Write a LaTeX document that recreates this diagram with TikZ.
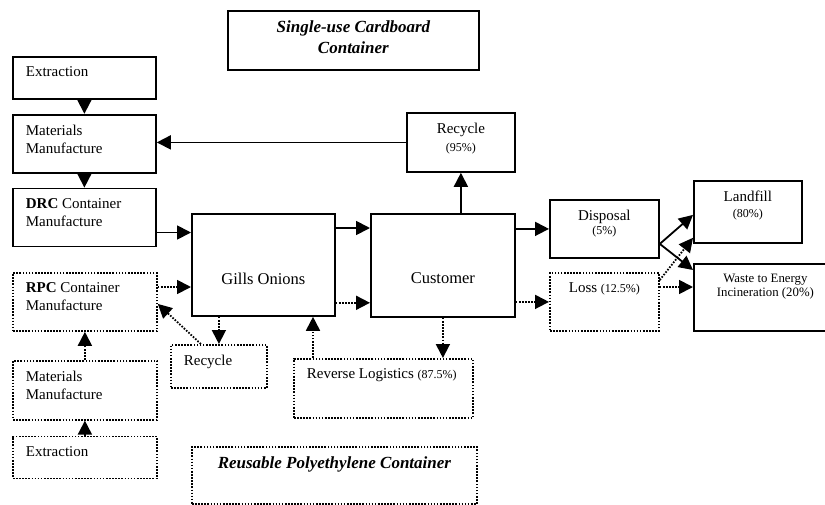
\documentclass[tikz,border=0pt]{standalone}
\usepackage{fontspec}
\setmainfont{Liberation Serif}
\usetikzlibrary{arrows.meta, positioning}

\newcommand{\pct}[1]{{\fontsize{12}{14}\selectfont(#1)}}

\begin{document}
\begin{tikzpicture}[
  x=1pt, y=-1pt,
  stagebox/.style n args={3}{draw, line width=1.8pt, anchor=north west, inner xsep=13pt, inner ysep=10pt,
    minimum width=#1pt, minimum height=#2pt, font=\fontsize{15}{18}\selectfont,
    execute at begin node={\begin{minipage}[t][\dimexpr#2pt-20pt\relax][t]{\dimexpr#1pt-26pt\relax}#3},
    execute at end node={\end{minipage}}},
  lbox/.style 2 args={stagebox={#1}{#2}{\raggedright}},
  cbox/.style 2 args={stagebox={#1}{#2}{\centering}},
  dotbox/.style={dash pattern=on 1.6pt off 1.5pt},
  judul/.style={font=\fontsize{17}{21}\selectfont\bfseries\itshape},
  panah/.style={-{Triangle[length=14pt,width=14pt]}, line width=1.8pt},
  panahdot/.style={panah, dash pattern=on 1.6pt off 1.5pt}
]
\clip (0,0) rectangle (825,504);

% Single-use cardboard
\node[cbox={251}{59}, judul] (titlecb) at (227,10) {Single-use Cardboard\\Container};
\node[lbox={143}{42}] (ext1) at (12,56) {Extraction};
\node[lbox={143}{58}, below=14pt of ext1] (mat1) {Materials\\Manufacture};
\node[lbox={143}{58}, below=14pt of mat1] (drc) {\textbf{DRC} Container\\Manufacture};
\node[cbox={143}{102}, font=\fontsize{16.5}{18}\selectfont] (gills) at (191,213) {\vspace*{49pt}Gills Onions};
\node[cbox={144}{103}, font=\fontsize{16.5}{18}\selectfont] (cust) at (370,213) {\vspace*{49pt}Customer};
\node[cbox={108}{59}] (rec1) at (406,112) {Recycle\\\pct{95\%}};
\node[cbox={109}{58}] (disp) at (549,199) {Disposal\\[-4pt]\pct{5\%}};
\node[cbox={108}{62}] (land) at (693,180) {Landfill\\[-2pt]\pct{80\%}};
\node[cbox={143}{67}, font=\fontsize{12.8}{14}\selectfont] (waste) at (693,263) {Waste to Energy\\Incineration (20\%)};

% Reusable polyethylene
\node[cbox={109}{58}, dotbox] (loss) at (549,272) {Loss \pct{12.5\%}};
\node[lbox={144}{58}, dotbox] (rpc) at (12,272) {\textbf{RPC} Container\\Manufacture};
\node[lbox={144}{59}, dotbox, below=28pt of rpc] (mat2) {Materials\\Manufacture};
\node[lbox={144}{42}, dotbox, below=15pt of mat2] (ext2) {Extraction};
\node[lbox={96}{43}, dotbox] (rec2) at (170,344) {Recycle};
\node[lbox={179}{59}, dotbox] (rev) at (293,358) {Reverse Logistics \pct{87.5\%}};
\node[cbox={285}{57}, dotbox, judul] (titlerpe) at (191,446) {Reusable Polyethylene Container};

% Alur karton
\draw[panah] (ext1) -- (mat1);
\draw[panah] (mat1) -- (drc);
\draw[panah] (rec1.west) -- (rec1.west -| mat1.east);
\draw[panah] (cust.north -| rec1.south) -- (rec1.south);
\draw[panah] ([yshift=-15pt]drc.east) -- ([yshift=-15pt]drc.east -| gills.west);
\draw[panah] ([yshift=-15pt]gills.north east) -- ([yshift=-15pt]gills.north east -| cust.west);
\draw[panah] (cust.east |- disp.west) -- (disp.west);
\draw[panah] ([yshift=-15pt]disp.east) -- ([yshift=-3pt]land.west);
\draw[panah] ([yshift=-15pt]disp.east) -- ([yshift=-7pt]waste.north west);

% Alur polietilen
\draw[panahdot] ([yshift=-15pt]rpc.north east) -- ([yshift=-15pt]rpc.north east -| gills.west);
\draw[panahdot] ([yshift=14pt]gills.south east) -- ([yshift=14pt]gills.south east -| cust.west);
\draw[panahdot] (cust.east |- loss.west) -- (loss.west);
\draw[panahdot] ([yshift=-8pt]loss.north east) -- ([yshift=6pt]land.south west);
\draw[panahdot] ([yshift=-24pt]waste.north west -| loss.east) -- ([yshift=-24pt]waste.north west);
\draw[panahdot] (gills.south -| rec2.north) -- (rec2.north);
\draw[panahdot] ([xshift=-18pt]rec2.north) -- ([yshift=-2pt]rpc.east);
\draw[panahdot] (mat2) -- (rpc);
\draw[panahdot] (ext2) -- (mat2);
\draw[panahdot] ([xshift=20pt]rev.north west) -- ([xshift=20pt]rev.north west |- gills.south);
\draw[panahdot] (cust.south) -- (cust.south |- rev.north);
\end{tikzpicture}
\end{document}
